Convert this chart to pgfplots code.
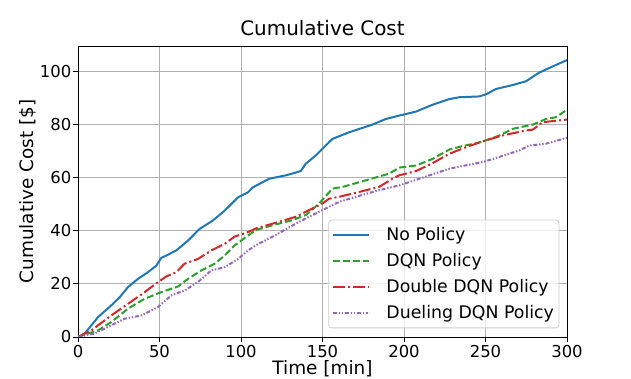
\documentclass[border=0pt]{standalone}
\usepackage{fontspec}
\setmainfont{DejaVu Sans}
\usepackage{pgfplots}
\pgfplotsset{compat=1.18}

\definecolor{tabblue}{HTML}{1F77B4}
\definecolor{tabgreen}{HTML}{2CA02C}
\definecolor{tabred}{HTML}{D62728}
\definecolor{tabpurple}{HTML}{9467BD}
\definecolor{gridgray}{HTML}{B0B0B0}
\definecolor{legendgray}{HTML}{CCCCCC}

\begin{document}
\begin{tikzpicture}
\begin{axis}[
    scale only axis, width=489bp, height=291bp,
    xmin=0, xmax=300, ymin=0, ymax=109.6,
    xtick={0,50,...,300}, ytick={0,20,...,100},
    grid=major, grid style={color=gridgray, line width=0.8bp},
    axis line style={line width=0.8bp, black},
    tick align=outside, tick pos=left, major tick length=5bp,
    tick style={line width=0.8bp, black},
    /pgf/number format/assume math mode=true,
    ticklabel style={font=\fontsize{16.5}{19}\selectfont},
    xticklabel style={inner sep=0pt, anchor=north, yshift=-3bp},
    yticklabel style={inner sep=0pt, anchor=east, xshift=-1.5bp},
    title={Cumulative Cost},
    title style={font=\fontsize{20}{24}\selectfont, at={(axis description cs:0.5,1.0148)}, anchor=base, inner sep=0pt},
    xlabel={Time [min]},
    xlabel style={font=\fontsize{18.5}{22}\selectfont, at={(axis description cs:0.5,-0.128)}, anchor=base, inner sep=0pt},
    ylabel={Cumulative Cost [\$]},
    ylabel style={font=\fontsize{18.5}{22}\selectfont, at={(axis description cs:-0.092,0.5)}, anchor=base, inner sep=0pt},
    legend cell align=left,
    legend image code/.code={\draw[#1] (0bp,0bp) -- (36.6bp,0bp);},
    legend style={at={(axis description cs:1,0)}, anchor=south east,
        xshift=-7.7bp, yshift=8.7bp,
        draw=legendgray, line width=0.8bp, fill=white, fill opacity=0.8, text opacity=1,
        rounded corners=3bp, inner xsep=3bp, inner ysep=5.5bp,
        font=\fontsize{17.4}{20}\selectfont,
        row sep=7.4bp,
        nodes={inner sep=2bp},
        /tikz/every odd column/.append style={column sep=14bp}},
    every axis plot/.append style={line width=2bp},
]
\addplot[tabblue] coordinates {
(0,0) (4.1,1.3) (12.3,7.5) (20.4,11.9) (25.6,15) (30.7,18.8) (36.8,21.9) (42.9,24.4)
(48.1,26.9) (51.1,29.8) (54.2,30.7) (60.3,32.6) (67.5,36.3) (74.6,40.7) (82.8,43.9)
(90,47.6) (98.2,52.6) (104.3,54.5) (107.1,56.3) (117.3,59.6) (127.6,60.9) (136.7,62.5)
(139.8,65.3) (145.9,68.4) (150,70.9) (156.1,74.6) (166.3,77.1) (180.6,80) (188.8,82.1)
(197.1,83.4) (207.4,84.9) (217.6,87.5) (227.8,89.6) (233.9,90.3) (246.2,90.6)
(250.7,91.5) (256.4,93.4) (266.7,94.9) (274.8,96.3) (283,99.6) (291.2,101.9) (300,104.3)
};
\addlegendentry{No Policy}
\addplot[tabgreen, dash pattern=on 7bp off 3bp] coordinates {
(0,0) (12.3,2.5) (20.4,5.6) (30.7,10.7) (40.9,14.4) (51.1,16.9) (61.3,19) (67.5,21.9)
(75.7,25.1) (83.8,27.6) (90,30.7) (96.1,34.5) (104.3,38.2) (109.2,40.3) (119.4,42.1)
(131.6,44) (135.7,45) (140,46) (148,50.3) (156.1,55.9) (162.2,56.5) (176.5,59)
(190.8,61.5) (197.1,63.8) (207.4,64.6) (217.6,67.1) (227.8,70.6) (236,71.9) (244.2,73)
(249.9,74) (258.5,75.9) (266.7,78.4) (279,80) (287.1,82.1) (293.3,82.8) (300,85.6)
};
\addlegendentry{DQN Policy}
\addplot[tabred, dash pattern=on 12bp off 3bp on 2bp off 3bp] coordinates {
(0,0) (8.2,2.5) (20.4,8.1) (30.7,12.5) (40.9,16.9) (49.1,20.7) (54.2,22.8) (60.3,24.4)
(65.4,27.6) (73.6,29.4) (81.8,32.6) (90,35.1) (96.1,37.8) (104.3,39.5) (109.2,40.9)
(123.5,43.4) (133.7,45.3) (141.8,47.8) (150,50.3) (154.1,52.1) (160.2,52.8) (172.4,54.6)
(184.7,56.5) (192.9,59.6) (197.1,60.9) (207.4,62.5) (217.6,65.5) (227.8,69) (238,71.5)
(249.9,74) (260.5,75.9) (274.8,77.8) (279,78.1) (285.1,80.9) (300,81.9)
};
\addlegendentry{Double DQN Policy}
\addplot[tabpurple, dash pattern=on 4bp off 1.8bp on 1.4bp off 1.8bp on 1.4bp off 1.8bp] coordinates {
(0,0) (10.2,1.3) (20.4,4.4) (28.6,6.9) (38.9,8.1) (49.1,11.3) (57.3,15.7) (65.4,17.5)
(73.6,20.7) (81.8,25.1) (90,26.3) (98.2,29.4) (104.3,32.6) (109.2,34.6) (119.4,37.8)
(135.7,43.4) (150,47.8) (160.2,50.9) (170.4,52.8) (184.7,55.3) (197.1,57.1) (209.4,59.6)
(227.8,63.4) (248.3,65.9) (258.5,67.8) (270.8,70.3) (276.9,72.1) (287.1,72.8) (300,75)
};
\addlegendentry{Dueling DQN Policy}
\end{axis}
\pgfresetboundingbox
\path[use as bounding box] (current axis.south west) ++(-78bp,-42bp) rectangle ++(631bp,379bp);
\end{tikzpicture}
\end{document}
